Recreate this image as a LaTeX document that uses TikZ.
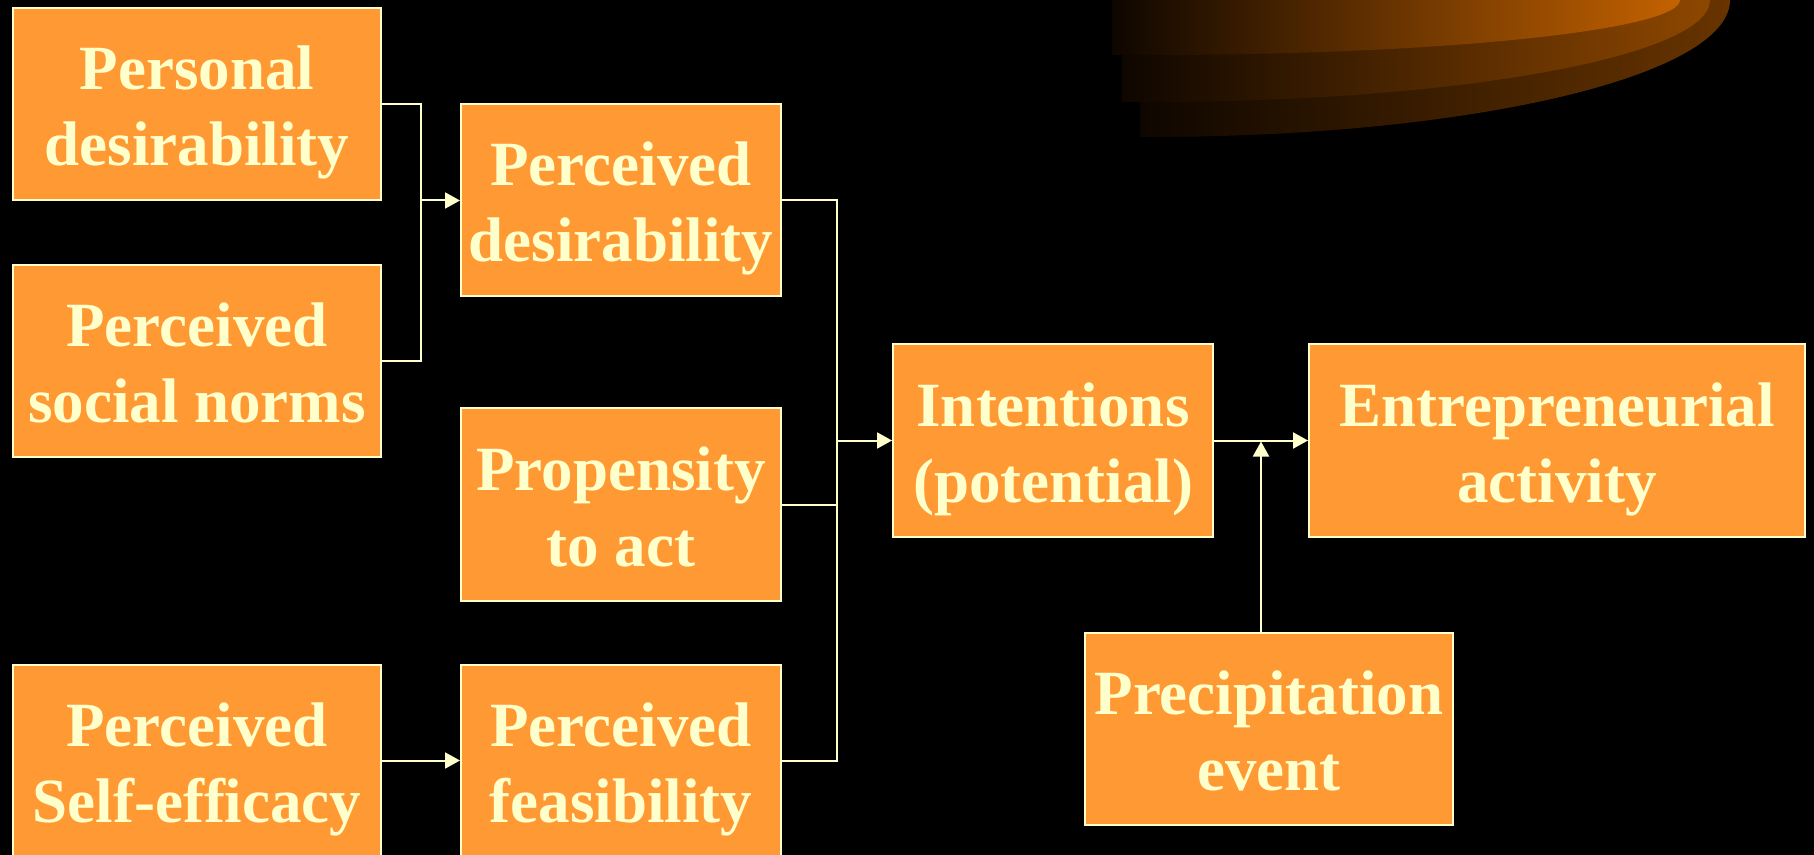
\documentclass[tikz,border=0pt]{standalone}
\usepackage{fontspec}
\setmainfont{Liberation Serif}
\usetikzlibrary{arrows.meta}

\definecolor{boxorange}{HTML}{FF9933}
\definecolor{paleyellow}{HTML}{FFFFCC}
\definecolor{swoopdark}{HTML}{0E0600}
\definecolor{swoopa}{HTML}{C46200}
\definecolor{swoopb}{HTML}{8E4700}
\definecolor{swoopc}{HTML}{683400}

% two lines of box text with fixed top and bottom struts
\newcommand{\twolines}[2]{\rule{0pt}{31.5pt}#1\\#2\rule[-8pt]{0pt}{8pt}}

\begin{document}
\begin{tikzpicture}[x=0.5pt, y=-0.5pt, >={Triangle[length=7.5pt,width=8pt]}]
\tikzstyle{box}=[draw=paleyellow, fill=boxorange, text=paleyellow, line width=1pt, inner sep=0pt, align=center, minimum height=96pt, font=\bfseries\fontsize{31.5}{38}\selectfont]
\tikzstyle{link}=[draw=paleyellow, line width=1pt]
\useasboundingbox[fill=black] (0,0) rectangle (1814,855);

% swoosh in the top corner
\shade[left color=swoopdark, right color=swoopc] (1140,-50) -- (1140,137) -- (1150,137) .. controls (1470,137) and (1730,76) .. (1730,0) -- (1730,-50) -- cycle;
\shade[left color=swoopdark, right color=swoopb] (1122,-50) -- (1122,102) -- (1150,102) .. controls (1459,102) and (1710,56) .. (1710,0) -- (1710,-50) -- cycle;
\shade[left color=swoopdark, right color=swoopa] (1112,-50) -- (1112,55) -- (1150,55) .. controls (1443,55) and (1680,30) .. (1680,0) -- (1680,-50) -- cycle;

\node[box, minimum width=184pt] (pdes)   at (197,104.5) {\twolines{Personal}{desirability}};
\node[box, minimum width=184pt] (psn)    at (197,361)   {\twolines{Perceived}{social norms}};
\node[box, minimum width=184pt] (pse)    at (197,760.5) {\twolines{Perceived}{Self-efficacy}};
\node[box, minimum width=160pt] (perdes) at (621,200.5) {\twolines{Perceived}{desirability}};
\node[box, minimum width=160pt] (prop)   at (621,504.5) {\twolines{Propensity}{to act}};
\node[box, minimum width=160pt] (pfeas)  at (621,760.5) {\twolines{Perceived}{feasibility}};
\node[box, minimum width=160pt] (intent) at (1053,440.5) {\twolines{Intentions}{(potential)}};
\node[box, minimum width=248pt] (entre)  at (1557,440.5) {\twolines{Entrepreneurial}{activity}};
\node[box, minimum width=184pt] (precip) at (1269,729)  {\twolines{Precipitation}{event}};

\coordinate (j1) at (420.5,200.5);
\coordinate (j2) at (837,440.5);

\draw[link] (pdes.east) -| (j1) |- (psn.east);
\draw[link,->] (j1) -- (perdes.west);
\draw[link] (perdes.east) -| (j2) |- (pfeas.east);
\draw[link] (prop.east) -- (prop.east -| j2);
\draw[link,->] (j2) -- (intent.west);
\draw[link,->] (pse.east) -- (pfeas.west);
\draw[link,->] (intent.east) -- (entre.west);
\draw[link,->] ([xshift=-4pt]precip.north) -- ([xshift=-4pt,yshift=-0.5pt]precip.north |- intent.east);
\end{tikzpicture}
\end{document}
